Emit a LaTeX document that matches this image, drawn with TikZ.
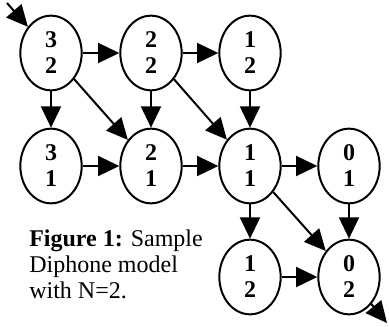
\documentclass[tikz,border=0pt]{standalone}
\usepackage{fontspec}
\setmainfont{Liberation Serif}
\usetikzlibrary{shapes.geometric,arrows.meta}

\begin{document}
\begin{tikzpicture}[x=0.75pt,y=-0.75pt,
    state/.style={draw, ellipse, line width=1.5pt, minimum width=46pt, minimum height=56pt, inner sep=0pt, align=center, font=\fontsize{18}{19.5}\selectfont\bfseries},
    arr/.style={line width=1.5pt, -{Triangle[length=16pt,width=15pt]}}]
    \useasboundingbox (0,0) rectangle (389,326);
    \node[state] (s32) at (51,53) {3\\2};
    \node[state] (s22) at (151,53) {2\\2};
    \node[state] (s12) at (250,53) {1\\2};
    \node[state] (s31) at (51,166) {3\\1};
    \node[state] (s21) at (151,166) {2\\1};
    \node[state] (s11) at (250,166) {1\\1};
    \node[state] (s01) at (349,166) {0\\1};
    \node[state] (t12) at (250,277) {1\\2};
    \node[state] (t02) at (349,277) {0\\2};
    \coordinate (start) at (7,3);
    \coordinate (stop) at (387,323);
    \draw[arr] (start) -- (s32);
    \draw[arr] (s32) -- (s22);
    \draw[arr] (s22) -- (s12);
    \draw[arr] (s32) -- (s31);
    \draw[arr] (s22) -- (s21);
    \draw[arr] (s12) -- (s11);
    \draw[arr] (s32) -- (s21);
    \draw[arr] (s22) -- (s11);
    \draw[arr] (s31) -- (s21);
    \draw[arr] (s21) -- (s11);
    \draw[arr] (s11) -- (s01);
    \draw[arr] (s11) -- (t12);
    \draw[arr] (s01) -- (t02);
    \draw[arr] (s11) -- (t02);
    \draw[arr] (t12) -- (t02);
    \draw[arr] (t02) -- (stop);
    \node[anchor=base west, align=left, inner sep=0pt, font=\fontsize{18}{19.5}\selectfont] (cap) at (29,298) {\textbf{Figure 1:} Sample\\Diphone model\\with N=2.};
\end{tikzpicture}
\end{document}
